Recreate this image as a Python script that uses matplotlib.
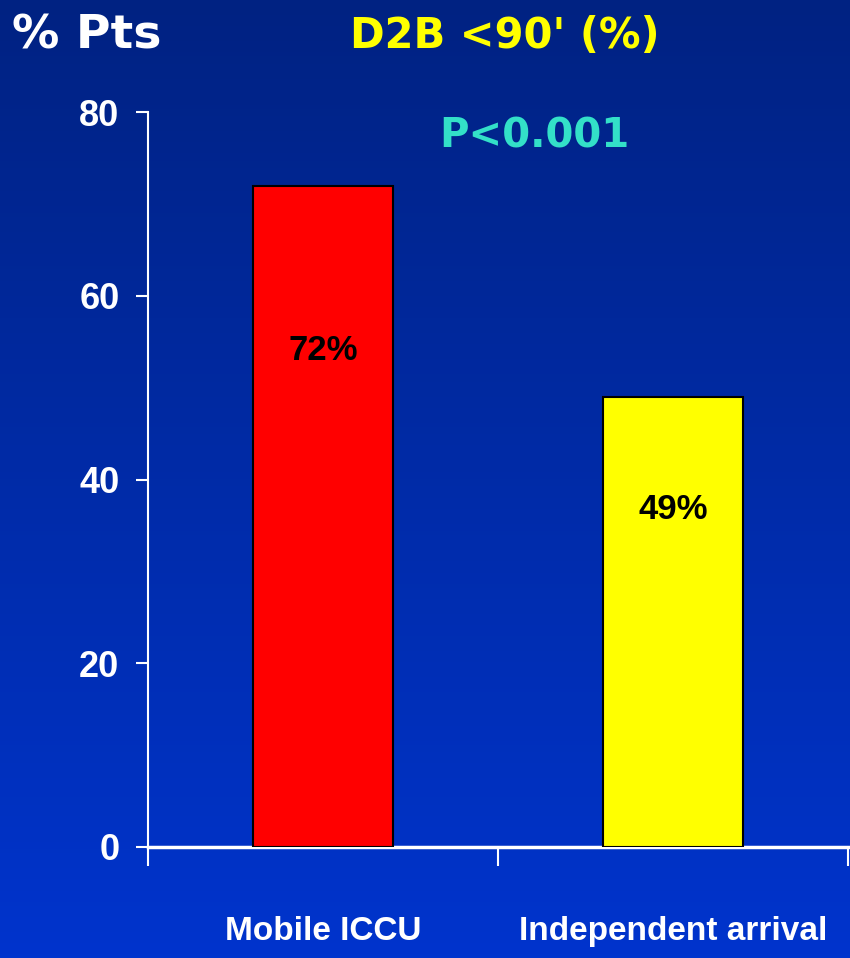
import numpy as np
import matplotlib.pyplot as plt

# datos
categorias = ['Mobile ICCU', 'Independent arrival']
valores = [72, 49]
colores = ['#ff0000', '#ffff00']
yticks = [0, 20, 40, 60, 80]

arial = ['Liberation Sans', 'DejaVu Sans']

fig = plt.figure(figsize=(8.5, 9.58), dpi=100)

# fondo degradado azul
fondo = fig.add_axes([0, 0, 1, 1], zorder=-1)
grad = np.linspace(0, 1, 256).reshape(-1, 1)
arriba = np.array([0, 34, 130]) / 255.
abajo = np.array([0, 52, 205]) / 255.
img = arriba + (abajo - arriba) * grad[:, :, None]
fondo.imshow(img, aspect='auto', extent=[0, 1, 0, 1])
fondo.axis('off')

ax = fig.add_axes([148 / 850, 111 / 958, 700 / 850, 735 / 958])
ax.patch.set_alpha(0)

x = np.arange(len(categorias))
ax.bar(x, valores, width=0.4, color=colores, edgecolor='black', linewidth=1.5, zorder=3)

for xi, v in zip(x, valores):
    ax.text(xi, v * 0.75, str(v) + '%', ha='center', va='center',
            fontsize=25, fontweight='bold', color='black', family=arial, zorder=4)

ax.set_xlim(-0.5, 1.5)
ax.set_ylim(0, 80)
ax.set_yticks(yticks)
ax.set_yticklabels([str(t) for t in yticks], fontsize=26, fontweight='bold',
                   color='white', family=arial)
ax.set_xticks([-0.5, 0.5, 1.5])
ax.set_xticklabels([])
ax.tick_params(axis='y', colors='white', length=8.6, width=1.5, pad=12)
ax.tick_params(axis='x', colors='white', length=14, width=1.5)

for xi, c in zip(x, categorias):
    ax.text(xi, -0.115, c, transform=ax.get_xaxis_transform(), ha='center', va='center',
            fontsize=24, fontweight='bold', color='white', family=arial)

for s in ['top', 'right']:
    ax.spines[s].set_visible(False)
ax.spines['left'].set_color('white')
ax.spines['left'].set_linewidth(1.5)
ax.spines['bottom'].set_color('white')
ax.spines['bottom'].set_linewidth(2.5)

fig.text(12 / 850, 1 - 36 / 958, '% Pts', fontsize=34, fontweight='bold',
         color='white', ha='left', va='center')
fig.text(505 / 850, 1 - 36 / 958, "D2B <90' (%)", fontsize=30, fontweight='bold',
         color='#ffff00', ha='center', va='center')
fig.text(534 / 850, 1 - 137 / 958, 'P<0.001', fontsize=29, fontweight='bold',
         color='#33e0c8', ha='center', va='center')

fig.savefig('out.png', dpi=100)
